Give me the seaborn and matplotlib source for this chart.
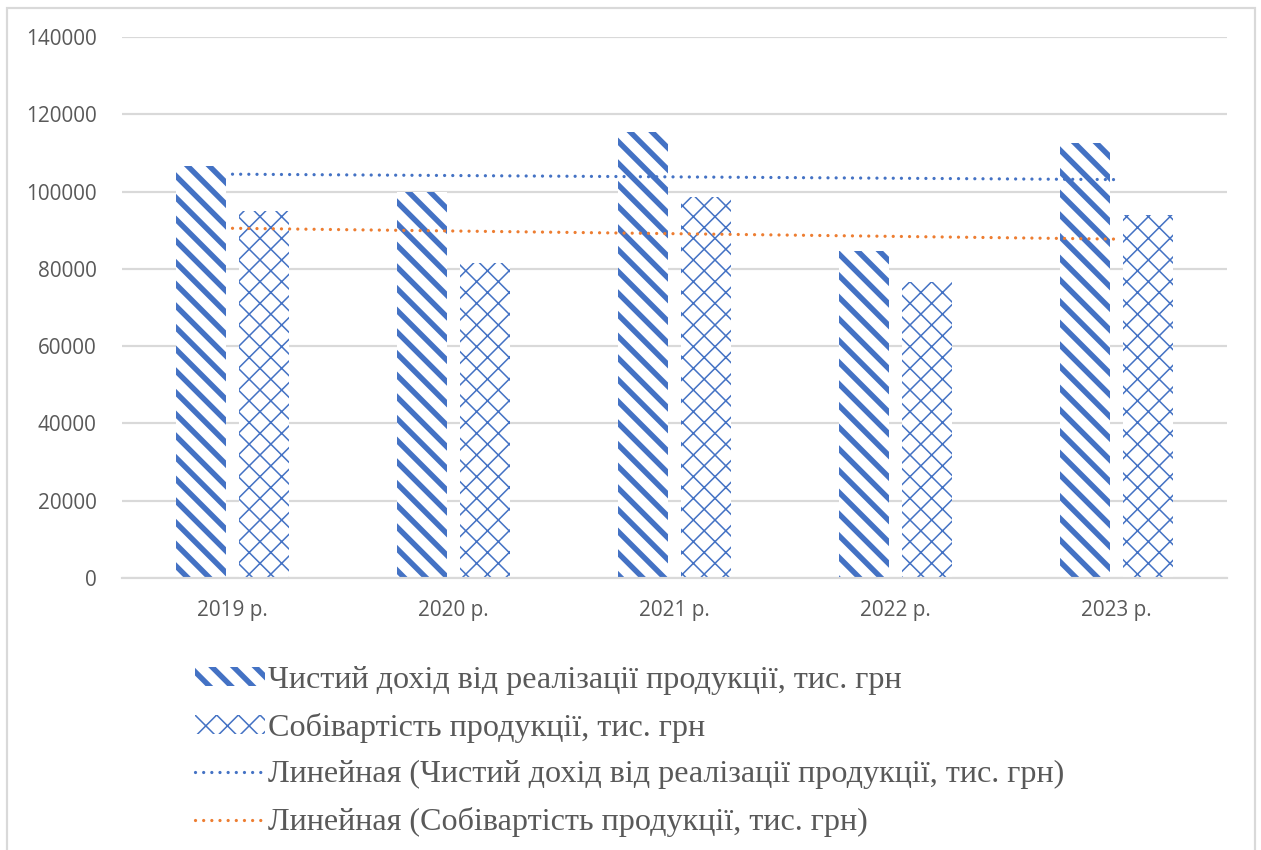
import numpy as np
import pandas as pd
import matplotlib
matplotlib.use("Agg")
import matplotlib.pyplot as plt
import seaborn as sns
from matplotlib.patches import Patch, Rectangle
from matplotlib.lines import Line2D

years = ["2019 р.", "2020 р.", "2021 р.", "2022 р.", "2023 р."]
revenue = [106500, 100000, 115500, 84500, 112500]
cost = [95000, 81500, 98500, 76500, 94000]
s_rev = "Чистий дохід від реалізації продукції, тис. грн"
s_cost = "Собівартість продукції, тис. грн"
t_rev = "Линейная (Чистий дохід від реалізації продукції, тис. грн)"
t_cost = "Линейная (Собівартість продукції, тис. грн)"
yticks = [0, 20000, 40000, 60000, 80000, 100000, 120000, 140000]

BLUE = "#4472C4"
ORANGE = "#ED7D31"
GRID = "#D9D9D9"
TXT = "#595959"

DPI = 130
sns.set_style("white")
plt.rcParams["font.family"] = ["Open Sans", "DejaVu Sans"]

df = pd.DataFrame({
    "year": years * 2,
    "value": revenue + cost,
    "series": [s_rev] * len(years) + [s_cost] * len(years),
})

fig = plt.figure(figsize=(1261 / DPI, 850 / DPI), dpi=DPI)
ax = fig.add_axes([122 / 1261, 1 - 578 / 850, (1227 - 122) / 1261, (578 - 37) / 850])

sns.barplot(data=df, x="year", y="value", hue="series", order=years,
            hue_order=[s_rev, s_cost], palette=["white", "white"],
            width=0.572, gap=0.22, legend=False, ax=ax, zorder=2)

H_REV = "\\\\"
H_COST = "xx"
LW_REV = 3.0
LW_COST = 0.85

n = len(years)
patches = ax.patches
for i, p in enumerate(patches[:2 * n]):
    p.set_edgecolor(BLUE)
    p.set_linewidth(0)
    if i < n:
        p.set_hatch(H_REV)
        if hasattr(p, "set_hatch_linewidth"):
            p.set_hatch_linewidth(LW_REV)
    else:
        p.set_hatch(H_COST)
        if hasattr(p, "set_hatch_linewidth"):
            p.set_hatch_linewidth(LW_COST)

x = np.arange(n)
for vals, col in [(revenue, BLUE), (cost, ORANGE)]:
    k, b = np.polyfit(x, vals, 1)
    ax.plot(x, k * x + b, color=col, lw=1.8, linestyle=(0, (0.01, 2.5)),
            dash_capstyle="round", zorder=4)

ax.set_xlim(-0.5, n - 0.5)
ax.set_ylim(0, 140000)
ax.set_yticks(yticks)
ax.set_yticklabels([str(v) for v in yticks])
ax.yaxis.grid(True, color=GRID, lw=1.2, zorder=0)
ax.set_axisbelow(True)
for s in ["top", "right", "left"]:
    ax.spines[s].set_visible(False)
ax.spines["bottom"].set_color(GRID)
ax.spines["bottom"].set_linewidth(1.2)
ax.tick_params(axis="both", length=0, labelsize=11.5, labelcolor=TXT)
ax.tick_params(axis="y", pad=14)
ax.tick_params(axis="x", pad=12)
ax.set_xlabel("")
ax.set_ylabel("")

h1 = Patch(facecolor="white", edgecolor=BLUE, linewidth=0, hatch=H_REV)
h2 = Patch(facecolor="white", edgecolor=BLUE, linewidth=0, hatch=H_COST)
h3 = Line2D([], [], color=BLUE, lw=1.8, linestyle=(0, (0.01, 2.5)), dash_capstyle="round")
h4 = Line2D([], [], color=ORANGE, lw=1.8, linestyle=(0, (0.01, 2.5)), dash_capstyle="round")
leg = fig.legend([h1, h2, h3, h4], [s_rev, s_cost, t_rev, t_cost],
                 loc="upper left", bbox_to_anchor=(195 / 1261, 1 - 666 / 850),
                 frameon=False, borderpad=0, borderaxespad=0,
                 handlelength=2.17, handleheight=0.55, handletextpad=0.1,
                 labelspacing=0.55,
                 prop={"family": ["Liberation Serif", "DejaVu Serif"], "size": 17.8})
for t in leg.get_texts():
    t.set_color(TXT)
lp = leg.get_patches()
for j, p in enumerate(lp):
    if hasattr(p, "set_hatch_linewidth"):
        p.set_hatch_linewidth(LW_REV if j == 0 else LW_COST)

fig.patches.append(Rectangle((7 / 1261, -0.05), (1255 - 7) / 1261, 1.05 - 8 / 850,
                             transform=fig.transFigure, fill=False,
                             edgecolor=GRID, lw=1.2))

fig.savefig("out.png", dpi=DPI)
